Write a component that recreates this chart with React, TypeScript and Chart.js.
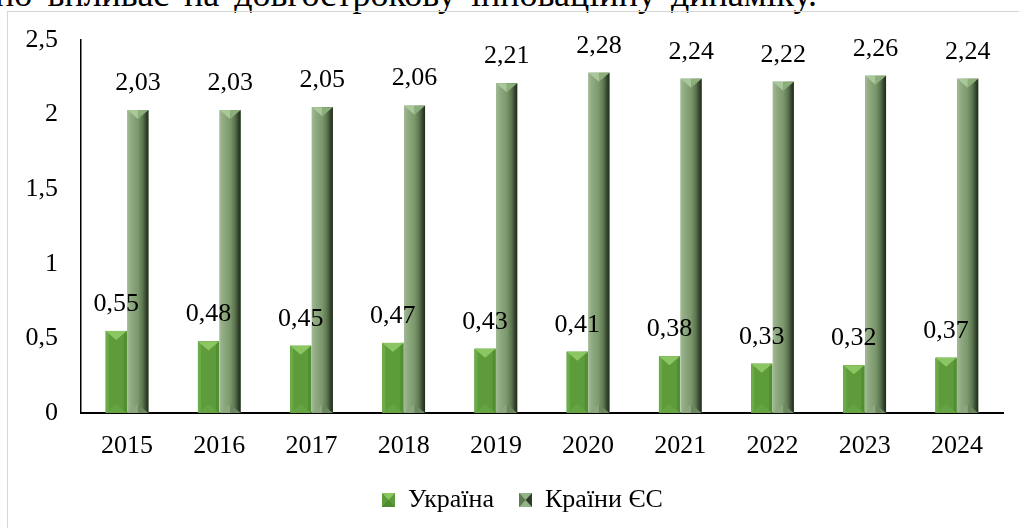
import React, { useEffect, useRef } from "react";
import { Chart, registerables } from "chart.js";

Chart.register(...registerables);

const years = ["2015", "2016", "2017", "2018", "2019", "2020", "2021", "2022", "2023", "2024"];
const ukraine = [0.55, 0.48, 0.45, 0.47, 0.43, 0.41, 0.38, 0.33, 0.32, 0.37];
const euCountries = [2.03, 2.03, 2.05, 2.06, 2.21, 2.28, 2.24, 2.22, 2.26, 2.24];
const seriesNames = ["Україна", "Країни ЄС"];
const yMin = 0;
const yMax = 2.5;
const yStep = 0.5;
const headerText = "но впливає на довгострокову інноваційну динаміку.";

const FONT = "'Liberation Serif', 'Times New Roman', serif";

const comma = (v: number, d?: number) =>
  (d === undefined ? String(v) : v.toFixed(d)).replace(".", ",");

function makeIcon(kind: number): HTMLCanvasElement {
  const c = document.createElement("canvas");
  c.width = 13;
  c.height = 14;
  const g = c.getContext("2d")!;
  const w = 13, h = 14;
  if (kind === 0) {
    g.fillStyle = "#5D9B3B";
    g.fillRect(0, 0, w, h);
    g.fillStyle = "#8CC663";
    g.beginPath(); g.moveTo(0, 0); g.lineTo(w, 0); g.lineTo(w / 2, h / 2); g.closePath(); g.fill();
    g.fillStyle = "#4E8A30";
    g.beginPath(); g.moveTo(0, h); g.lineTo(w, h); g.lineTo(w / 2, h / 2); g.closePath(); g.fill();
  } else {
    g.fillStyle = "#94B386";
    g.fillRect(0, 0, w, h);
    g.fillStyle = "#5E7A52";
    g.beginPath(); g.moveTo(0, 0); g.lineTo(0, h); g.lineTo(w / 2, h / 2); g.closePath(); g.fill();
    g.fillStyle = "#2E3D29";
    g.beginPath(); g.moveTo(w, 0); g.lineTo(w, h); g.lineTo(w / 2, h / 2); g.closePath(); g.fill();
  }
  return c;
}

function tri(ctx: CanvasRenderingContext2D, pts: number[][], color: string) {
  ctx.fillStyle = color;
  ctx.beginPath();
  ctx.moveTo(pts[0][0], pts[0][1]);
  for (let i = 1; i < pts.length; i++) ctx.lineTo(pts[i][0], pts[i][1]);
  ctx.closePath();
  ctx.fill();
}

const legendShift = {
  id: "legendShift",
  afterLayout(chart: any) {
    const lg = chart.legend;
    if (lg) {
      lg.left += 21;
      lg.right += 21;
    }
  },
};

const bevelAndLabels = {
  id: "bevelAndLabels",
  afterDatasetsDraw(chart: any) {
    const ctx: CanvasRenderingContext2D = chart.ctx;
    const area = chart.chartArea;
    ctx.save();
    ctx.beginPath();
    ctx.rect(area.left, area.top - 20, area.right - area.left, area.bottom - area.top + 20);
    ctx.clip();
    chart.data.datasets.forEach((ds: any, di: number) => {
      const meta = chart.getDatasetMeta(di);
      meta.data.forEach((el: any) => {
        const p = el.getProps(["x", "y", "base", "width"], true);
        const L = p.x - p.width / 2, R = p.x + p.width / 2, T = p.y, B = p.base, cx = p.x;
        const bev = Math.min(9, (B - T) / 2);
        if (di === 0) {
          ctx.fillStyle = "#5D9B3B";
          ctx.fillRect(L, T, R - L, B - T);
          ctx.fillStyle = "#6CAC48";
          ctx.fillRect(L, T, 3, B - T);
          ctx.fillStyle = "#528E33";
          ctx.fillRect(R - 3, T, 3, B - T);
          tri(ctx, [[L, B], [R, B], [cx, B - bev]], "#66A443");
          tri(ctx, [[L, T], [R, T], [cx, T + bev]], "#8CC663");
        } else {
          const g = ctx.createLinearGradient(L, 0, R, 0);
          g.addColorStop(0, "#A2BA95");
          g.addColorStop(0.15, "#91AC83");
          g.addColorStop(0.5, "#7B976B");
          g.addColorStop(0.72, "#5C7650");
          g.addColorStop(0.88, "#36472F");
          g.addColorStop(1, "#1E281B");
          ctx.fillStyle = g;
          ctx.fillRect(L, T, R - L, B - T);
          tri(ctx, [[L, B], [cx, B], [cx, B - bev]], "#8CA77E");
          tri(ctx, [[cx, B], [R, B], [cx, B - bev]], "#6C8760");
          tri(ctx, [[L, T], [cx, T], [cx, T + bev]], "#A9C79A");
          tri(ctx, [[cx, T], [R, T], [cx, T + bev]], "#8BAE7A");
        }
      });
    });
    ctx.restore();

    ctx.save();
    ctx.font = `26px ${FONT}`;
    ctx.fillStyle = "#000";
    ctx.textAlign = "center";
    ctx.textBaseline = "middle";
    chart.data.datasets.forEach((ds: any, di: number) => {
      const meta = chart.getDatasetMeta(di);
      meta.data.forEach((el: any, i: number) => {
        const p = el.getProps(["x", "y"], true);
        ctx.fillText(comma(ds.data[i], 2), p.x, p.y - 27);
      });
    });
    ctx.restore();
  },
};

export default function App() {
  const ref = useRef<HTMLCanvasElement>(null);

  useEffect(() => {
    let chart: any = null;
    let cancelled = false;
    const build = () => {
      if (cancelled || !ref.current) return;
      const icons = [makeIcon(0), makeIcon(1)];
      chart = new Chart(ref.current, {
        type: "bar",
        data: {
          labels: years,
          datasets: [
            {
              label: seriesNames[0],
              data: ukraine,
              backgroundColor: "#5D9B3B",
              categoryPercentage: 0.47,
              barPercentage: 0.97,
            },
            {
              label: seriesNames[1],
              data: euCountries,
              backgroundColor: "#7B976B",
              categoryPercentage: 0.47,
              barPercentage: 0.97,
            },
          ],
        },
        options: {
          responsive: false,
          animation: false,
          events: [],
          layout: { padding: { left: 0, right: 16, top: 40, bottom: 5 } },
          scales: {
            x: {
              grid: { display: false, drawTicks: false, tickLength: 0 },
              border: { display: true, color: "#000", width: 2 },
              ticks: {
                color: "#000",
                font: { family: FONT, size: 26 },
                padding: 18,
                maxRotation: 0,
              },
              afterFit: (s: any) => {
                s.height = 49;
              },
            },
            y: {
              min: yMin,
              max: yMax,
              grid: { display: false, drawTicks: false, tickLength: 0 },
              border: { display: true, color: "#000", width: 1.5 },
              ticks: {
                stepSize: yStep,
                color: "#000",
                font: { family: FONT, size: 26 },
                padding: 23,
                callback: (v: any) => comma(Number(v)),
              },
              afterFit: (s: any) => {
                s.width = 81;
              },
            },
          },
          plugins: {
            legend: {
              display: true,
              position: "bottom",
              labels: {
                usePointStyle: true,
                boxWidth: 13,
                boxHeight: 13,
                padding: 25,
                color: "#000",
                font: { family: FONT, size: 26 },
                generateLabels: () =>
                  seriesNames.map((name, i) => ({
                    text: name,
                    fillStyle: i === 0 ? "#5D9B3B" : "#7B976B",
                    strokeStyle: "rgba(0,0,0,0)",
                    lineWidth: 0,
                    pointStyle: icons[i] as any,
                    hidden: false,
                    datasetIndex: i,
                    fontColor: "#000",
                  })),
              },
            },
            tooltip: { enabled: false },
          },
        },
        plugins: [legendShift, bevelAndLabels],
      } as any);
    };
    const fontsApi: any = (document as any).fonts;
    if (fontsApi && fontsApi.load) {
      Promise.all([
        fontsApi.load(`26px 'Liberation Serif'`, "Україна 2015 0,5"),
        fontsApi.load(`36px 'Liberation Serif'`, "динаміку"),
      ])
        .catch(() => null)
        .then(() => build());
    } else {
      build();
    }
    return () => {
      cancelled = true;
      if (chart) chart.destroy();
    };
  }, []);

  return (
    <div
      style={{
        position: "fixed",
        left: 0,
        top: 0,
        width: 1019,
        height: 528,
        overflow: "hidden",
        background: "#fff",
      }}
    >
      <div
        style={{
          position: "absolute",
          left: -5,
          top: -24,
          width: 822,
          fontFamily: FONT,
          fontSize: 36,
          lineHeight: "36px",
          color: "#000",
          textAlign: "justify",
          textAlignLast: "justify" as any,
        }}
      >
        {headerText}
      </div>
      <div
        style={{
          position: "absolute",
          left: 7,
          top: 11,
          width: 1100,
          height: 600,
          border: "1px solid #D6D6D6",
          boxSizing: "border-box",
        }}
      />
      <canvas
        ref={ref}
        width={1019}
        height={528}
        style={{ position: "absolute", left: 0, top: 0, width: 1019, height: 528 }}
      />
    </div>
  );
}
